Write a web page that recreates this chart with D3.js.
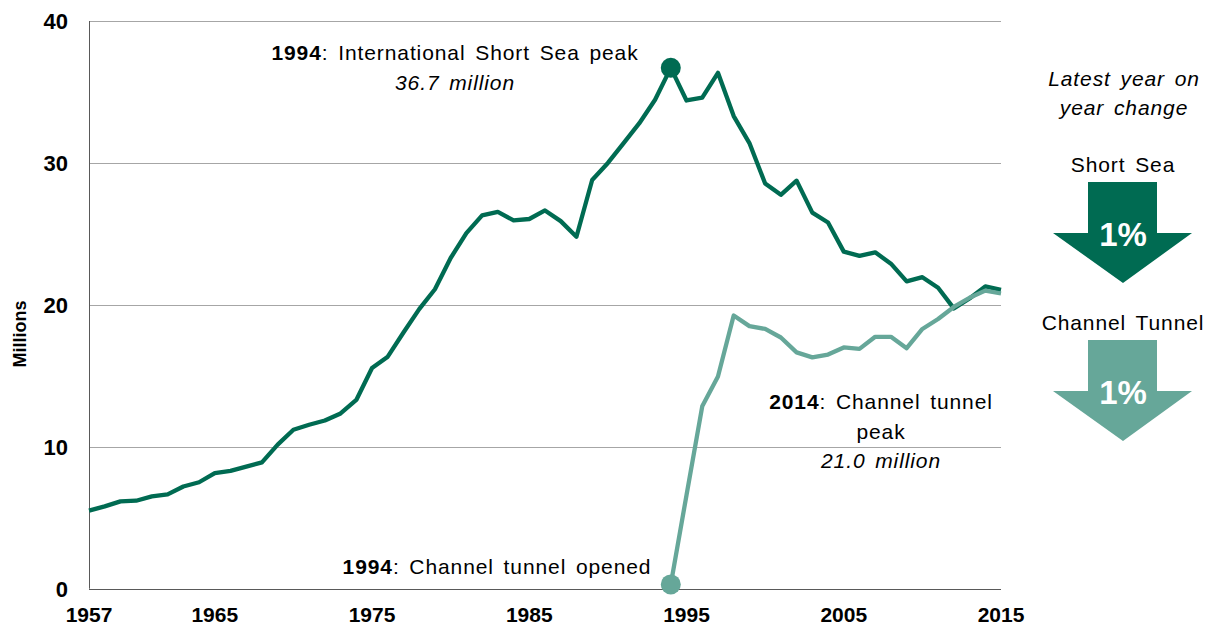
<!DOCTYPE html>
<html>
<head>
<meta charset="utf-8">
<script src="https://cdn.jsdelivr.net/npm/d3@7"></script>
<style>
  body { margin: 0; background: #fff; }
  svg { display: block; font-family: "Liberation Sans", Arial, sans-serif; }
  .note { font-size: 21px; letter-spacing: 0.9px; word-spacing: 3px; fill: #000; }
</style>
</head>
<body>
<svg id="chart" width="1214" height="627"></svg>
<script>
// international short sea passengers, 1957-2015 (millions)
var years = d3.range(1957, 2016);
var shortSea = [5.5, 5.8, 6.15, 6.2, 6.5, 6.65, 7.2, 7.5, 8.15, 8.3,
  8.6, 8.9, 10.15, 11.2, 11.55, 11.85, 12.35, 13.3, 15.55, 16.35,
  18.05, 19.7, 21.1, 23.3, 25.05, 26.3, 26.55, 25.95, 26.05, 26.65,
  25.9, 24.8, 28.8, 30.0, 31.4, 32.8, 34.45, 36.7, 34.4, 34.6,
  36.35, 33.3, 31.4, 28.55, 27.75, 28.75, 26.5, 25.8, 23.75, 23.45,
  23.7, 22.9, 21.65, 21.95, 21.2, 19.75, 20.45, 21.3, 21.05];

// channel tunnel passengers, 1994-2015 (millions)
var tunnelYears = d3.range(1994, 2016);
var channelTunnel = [0.3, 6.6, 12.85, 14.95, 19.25, 18.5, 18.3, 17.7, 16.65, 16.3,
  16.5, 17.0, 16.9, 17.75, 17.75, 16.95, 18.3, 19.0, 19.85, 20.5, 21.0, 20.8];

var xTicks = [1957, 1965, 1975, 1985, 1995, 2005, 2015];
var yTicks = [0, 10, 20, 30, 40];

var changes = [{label: "Short Sea", value: "1%"}, {label: "Channel Tunnel", value: "1%"}];

var dark = "#006b52", light = "#66a799";

var svg = d3.select("#chart");
var margin = {top: 21, right: 213, bottom: 38, left: 89},
  width = 1214 - margin.left - margin.right,
  height = 627 - margin.top - margin.bottom;

var x = d3.scaleLinear().domain([1957, 2015]).range([margin.left, margin.left + width]);
var y = d3.scaleLinear().domain([0, 40]).range([margin.top + height - 0.3, margin.top]);

// gridlines
svg.append("g")
  .selectAll("line")
  .data(yTicks.filter(function(d) { return d > 0; }))
  .enter().append("line")
  .attr("x1", x(1957)).attr("x2", x(2015))
  .attr("y1", function(d) { return Math.round(y(d)) + 0.5; })
  .attr("y2", function(d) { return Math.round(y(d)) + 0.5; })
  .style("stroke", "#a6a6a6")
  .style("stroke-width", 1);

// axes lines
svg.append("line")
  .attr("x1", x(1957) + 0.5).attr("x2", x(1957) + 0.5)
  .attr("y1", y(40)).attr("y2", y(0))
  .style("stroke", "#595959");
svg.append("line")
  .attr("x1", x(1957)).attr("x2", x(2015))
  .attr("y1", Math.round(y(0)) + 0.5).attr("y2", Math.round(y(0)) + 0.5)
  .style("stroke", "#595959");

// tick labels
svg.append("g")
  .selectAll("text")
  .data(yTicks)
  .enter().append("text")
  .attr("x", 68)
  .attr("y", function(d) { return y(d); })
  .attr("dy", "0.36em")
  .attr("text-anchor", "end")
  .style("font-size", "22px")
  .style("font-weight", "bold")
  .text(function(d) { return d; });

svg.append("g")
  .selectAll("text")
  .data(xTicks)
  .enter().append("text")
  .attr("x", function(d) { return x(d); })
  .attr("y", 622)
  .attr("text-anchor", "middle")
  .style("font-size", "21px")
  .style("font-weight", "bold")
  .text(function(d) { return d; });

svg.append("text")
  .attr("transform", "translate(26,334) rotate(-90)")
  .attr("text-anchor", "middle")
  .style("font-size", "18px")
  .style("font-weight", "bold")
  .text("Millions");

// lines
var line = d3.line()
  .x(function(d) { return x(d[0]); })
  .y(function(d) { return y(d[1]); });

svg.append("path")
  .datum(d3.zip(years, shortSea))
  .attr("d", line)
  .style("fill", "none")
  .style("stroke", dark)
  .style("stroke-width", 4.3)
  .style("stroke-linejoin", "round");

svg.append("path")
  .datum(d3.zip(tunnelYears, channelTunnel))
  .attr("d", line)
  .style("fill", "none")
  .style("stroke", light)
  .style("stroke-width", 4.3)
  .style("stroke-linejoin", "round");

// marker dots
svg.append("circle")
  .attr("cx", x(1994)).attr("cy", y(shortSea[years.indexOf(1994)]))
  .attr("r", 10).style("fill", dark);
svg.append("circle")
  .attr("cx", x(1994)).attr("cy", y(channelTunnel[0]))
  .attr("r", 10).style("fill", light);

// annotations
function note(lines, cx, y0, gap) {
  var t = svg.append("text").attr("class", "note").attr("text-anchor", "middle");
  lines.forEach(function(l, i) {
    var ts = t.append("tspan").attr("x", cx).attr("y", y0 + i * gap);
    l.forEach(function(p) {
      ts.append("tspan")
        .style("font-weight", p.b ? "bold" : null)
        .style("font-style", p.i ? "italic" : null)
        .text(p.t);
    });
  });
}

note([[{t: "1994", b: true}, {t: ": International Short Sea peak"}],
      [{t: "36.7 million", i: true}]], 455, 60, 30);
note([[{t: "1994", b: true}, {t: ": Channel tunnel opened"}]], 497, 574, 0);
note([[{t: "2014", b: true}, {t: ": Channel tunnel"}],
      [{t: "peak"}],
      [{t: "21.0 million", i: true}]], 881, 409, 29.5);

// right panel: latest year on year change
note([[{t: "Latest year on", i: true}], [{t: "year change", i: true}]], 1124, 86, 29);

var arrowTop = [182, 340];
var arrow = svg.append("g").selectAll("g")
  .data(changes)
  .enter().append("g")
  .attr("transform", function(d, i) { return "translate(1123," + arrowTop[i] + ")"; });

arrow.append("text")
  .attr("class", "note")
  .attr("text-anchor", "middle")
  .attr("y", -10)
  .text(function(d) { return d.label; });

arrow.append("path")
  .attr("d", "M-35,0 L34,0 L34,51 L69,51 L0,101 L-70,51 L-35,51 Z")
  .style("fill", function(d, i) { return i === 0 ? dark : light; });

arrow.append("text")
  .attr("text-anchor", "middle")
  .attr("y", 64)
  .style("font-size", "33px")
  .style("font-weight", "bold")
  .style("fill", "#fff")
  .text(function(d) { return d.value; });
</script>
</body>
</html>
